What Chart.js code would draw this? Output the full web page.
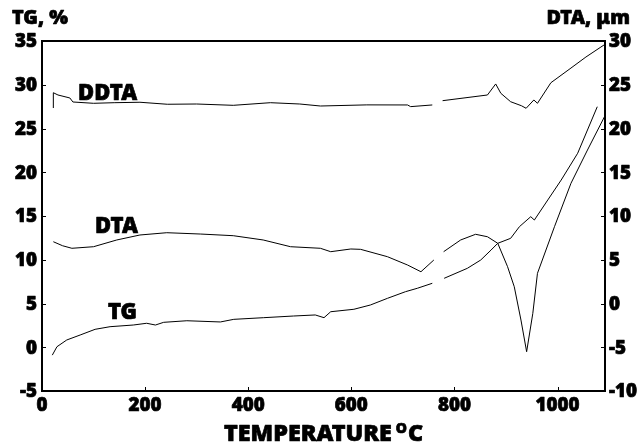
<!DOCTYPE html>
<html>
<head>
<meta charset="utf-8">
<script src="https://cdn.jsdelivr.net/npm/chart.js@4/dist/chart.umd.min.js"></script>
<style>
html,body{margin:0;padding:0;background:#fff;}
</style>
</head>
<body>
<canvas id="c" width="640" height="446"></canvas>
<script>
// Temperature (°C) and values
const tgT = [20, 29, 48, 74, 103, 132, 177, 203, 220, 236, 281, 346, 372, 430, 488, 530, 547, 560, 605, 637, 670, 705, 728, 757, 768, 780, 825, 851, 871, 884, 909, 926, 948, 955, 981, 1007, 1039, 1077];
const tgV = [-0.9, 0.06, 0.83, 1.4, 2.05, 2.35, 2.54, 2.74, 2.54, 2.85, 3.03, 2.89, 3.19, 3.38, 3.57, 3.69, 3.38, 4.06, 4.34, 4.83, 5.59, 6.35, 6.74, 7.31, null, 7.88, 9.02, 9.97, 11.11, 11.88, 12.45, 13.78, 14.92, 14.54, 16.83, 19.11, 22.17, 27.49];

const dtaT = [22, 40, 58, 100, 145, 190, 242, 307, 371, 429, 482, 540, 560, 599, 618, 670, 709, 735, 760, 770, 779, 812, 841, 864, 884, 903, 916, 929, 940, 952, 961, 994, 1026, 1058, 1091];
const dtaV = [7.06, 6.6, 6.31, 6.49, 7.26, 7.83, 8.09, 7.94, 7.75, 7.26, 6.49, 6.31, 5.92, 6.23, 6.19, 5.35, 4.4, 3.63, 4.97, null, 5.92, 7.26, 7.91, 7.63, 6.88, 4.21, 1.92, -1.89, -5.51, -1.12, 3.45, 8.78, 13.74, 17.54, 21.35];

const ddtaT = [22, 22, 31, 54, 60, 100, 140, 190, 243, 300, 371, 443, 500, 540, 630, 709, 715, 757, 767, 777, 864, 880, 890, 909, 930, 939, 954, 961, 987, 1026, 1055, 1084, 1090];
const ddtaV = [22.34, 24.09, 23.83, 23.49, 23.03, 22.88, 22.95, 23.0, 22.77, 22.8, 22.65, 22.95, 22.8, 22.57, 22.7, 22.69, 22.5, 22.69, null, 23.18, 23.83, 25.09, 24.02, 23.06, 22.6, 22.31, 23.26, 22.88, 25.23, 26.91, 28.17, 29.31, 29.54];

const xTicks = [0, 200, 400, 600, 800, 1000];
const tgTicks = [-5, 0, 5, 10, 15, 20, 25, 30, 35];
const dtaTicks = [-10, -5, 0, 5, 10, 15, 20, 25, 30];

const seriesLabels = [
  {text: 'DDTA', t: 70, v: 24.0, axis: 'y2', w: 59},
  {text: 'DTA', t: 103, v: 8.8, axis: 'y2', w: 43},
  {text: 'TG', t: 128, v: 3.9, axis: 'y', w: 29}
];

function pts(xs, ys){ return xs.map((x,i)=>({x:x, y:ys[i]})); }

const FAM = '"Noto Sans", Arial, sans-serif';
const W = '900';

function fitFont(ctx, text, width){
  ctx.font = W + ' 20px ' + FAM;
  const m = ctx.measureText(text).width;
  return 20 * width / m;
}
function heavyText(ctx, s, x, y){
  ctx.fillText(s, x, y);
  ctx.strokeText(s, x, y);
}

const decor = {
  id: 'decor',
  afterDraw(chart){
    const ctx = chart.ctx, a = chart.chartArea;
    const sx = chart.scales.x, sy = chart.scales.y, sy2 = chart.scales.y2;
    ctx.save();
    ctx.strokeStyle = '#000';
    ctx.lineWidth = 2;
    ctx.strokeRect(a.left, a.top, a.right - a.left, a.bottom - a.top);
    ctx.lineWidth = 1;
    ctx.beginPath();
    xTicks.forEach(t => { const p = Math.round(sx.getPixelForValue(t)) + 0.5; ctx.moveTo(p, a.bottom); ctx.lineTo(p, a.bottom - 4); });
    tgTicks.forEach(t => { const p = Math.round(sy.getPixelForValue(t)) + 0.5; ctx.moveTo(a.left, p); ctx.lineTo(a.left + 4, p); });
    dtaTicks.forEach(t => { const p = Math.round(sy2.getPixelForValue(t)) + 0.5; ctx.moveTo(a.right, p); ctx.lineTo(a.right - 4, p); });
    ctx.stroke();
    ctx.fillStyle = '#000';
    ctx.lineWidth = 0.7;
    ctx.lineJoin = 'round';

    // tick labels
    const tickSize = fitFont(ctx, '000', 33);
    ctx.font = W + ' ' + tickSize + 'px ' + FAM;
    ctx.textBaseline = 'middle';
    ctx.textAlign = 'center';
    xTicks.forEach(t => heavyText(ctx, String(t), sx.getPixelForValue(t), 406));
    ctx.textAlign = 'right';
    tgTicks.forEach(t => heavyText(ctx, String(t), a.left - 5, sy.getPixelForValue(t) + 1));
    ctx.textAlign = 'left';
    dtaTicks.forEach(t => heavyText(ctx, String(t), a.right + 4, sy2.getPixelForValue(t) + 1));

    // series labels
    ctx.textAlign = 'left';
    seriesLabels.forEach(l => {
      const sc = chart.scales[l.axis];
      const fs = fitFont(ctx, l.text, l.w);
      ctx.font = W + ' ' + fs + 'px ' + FAM;
      heavyText(ctx, l.text, sx.getPixelForValue(l.t), sc.getPixelForValue(l.v));
    });
    // unit labels
    const fs = fitFont(ctx, 'TG, %', 56);
    ctx.font = W + ' ' + fs + 'px ' + FAM;
    heavyText(ctx, 'TG, %', 12, 18);
    ctx.textAlign = 'right';
    heavyText(ctx, 'DTA, \u03BCm', 630, 18);
    // x title
    const bigSize = fitFont(ctx, 'TEMPERATURE', 168);
    const big = W + ' ' + bigSize + 'px ' + FAM, small = W + ' ' + Math.round(bigSize * 0.6) + 'px ' + FAM;
    ctx.font = big; const w1 = ctx.measureText('TEMPERATURE').width;
    ctx.font = small; const w2 = ctx.measureText('O').width;
    const x0 = 224, base = 441;
    ctx.textAlign = 'left'; ctx.textBaseline = 'alphabetic';
    ctx.font = big; heavyText(ctx, 'TEMPERATURE', x0, base);
    ctx.font = small; heavyText(ctx, 'O', x0 + w1 + 4, base - 8);
    ctx.font = big; heavyText(ctx, 'C', x0 + w1 + 4 + w2 + 1, base);
    ctx.restore();
  }
};

const lineDs = (label, data, axis) => ({
  label, data, yAxisID: axis, borderColor: '#000', borderWidth: 1,
  pointRadius: 0, tension: 0, spanGaps: false, fill: false
});

new Chart(document.getElementById('c'), {
  type: 'line',
  data: {
    datasets: [
      lineDs('DDTA', pts(ddtaT, ddtaV), 'y2'),
      lineDs('DTA', pts(dtaT, dtaV), 'y2'),
      lineDs('TG', pts(tgT, tgV), 'y')
    ]
  },
  options: {
    responsive: false,
    animation: false,
    events: [],
    layout: {padding: {top: 41, left: 0, right: 0, bottom: 0}},
    plugins: {legend: {display: false}, tooltip: {enabled: false}, title: {display: false}},
    scales: {
      x: {
        type: 'linear', min: 0, max: 1092,
        afterBuildTicks: s => { s.ticks = xTicks.map(v => ({value: v})); },
        afterFit: s => { s.height = 55; },
        grid: {display: false, drawTicks: false},
        border: {display: false},
        ticks: {display: false}
      },
      y: {
        position: 'left', min: -5, max: 35,
        afterBuildTicks: s => { s.ticks = tgTicks.map(v => ({value: v})); },
        afterFit: s => { s.width = 42; },
        grid: {display: false, drawTicks: false},
        border: {display: false},
        ticks: {display: false}
      },
      y2: {
        position: 'right', min: -10, max: 30,
        afterBuildTicks: s => { s.ticks = dtaTicks.map(v => ({value: v})); },
        afterFit: s => { s.width = 35; },
        grid: {display: false, drawTicks: false},
        border: {display: false},
        ticks: {display: false}
      }
    }
  },
  plugins: [decor]
});
</script>
</body>
</html>
